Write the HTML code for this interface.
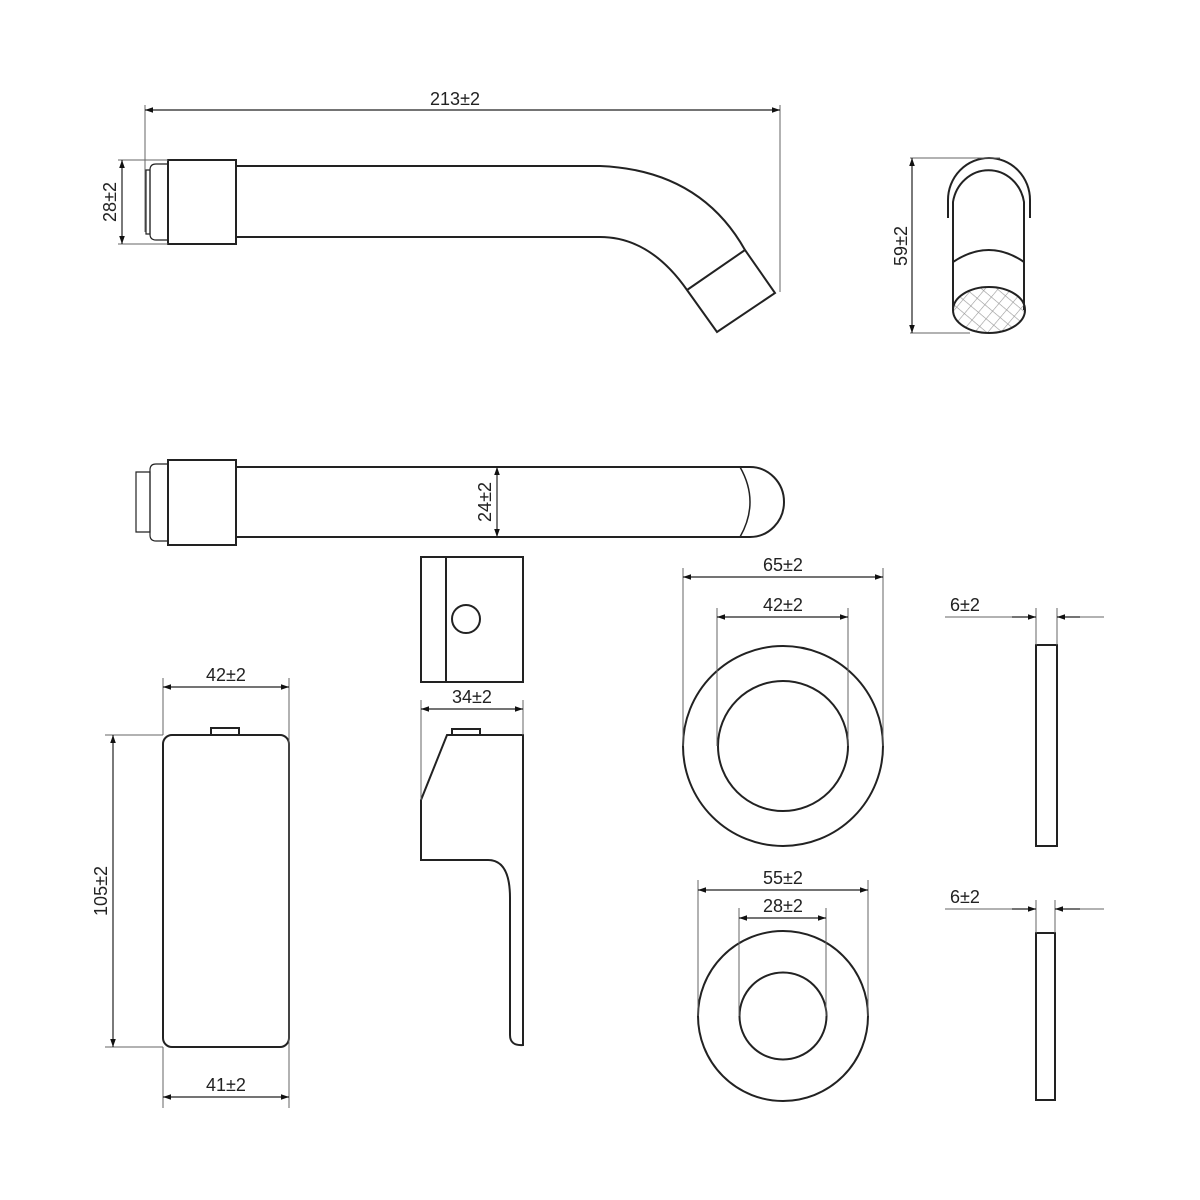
<!DOCTYPE html>
<html><head><style>body{margin:0;background:#fff}svg{display:block}text{font-family:"Liberation Sans",sans-serif;font-size:18px;fill:#222}</style></head>
<body>
<svg width="1200" height="1200" viewBox="0 0 1200 1200" xmlns="http://www.w3.org/2000/svg">
<defs>
<marker id="a" viewBox="0 0 10 10" refX="10" refY="5" markerWidth="24" markerHeight="8" markerUnits="userSpaceOnUse" orient="auto-start-reverse"><path d="M0,1.5 L10,5 L0,8.5Z" fill="#111"/></marker>
<pattern id="h" width="10" height="10" patternUnits="userSpaceOnUse" patternTransform="rotate(40)"><path d="M0,0H10M0,0V10" stroke="#999" stroke-width="1.2"/></pattern>
</defs>
<g fill="none" stroke="#222" stroke-width="2">
<!-- top spout -->
<path d="M168,160H236V244H168Z"/>
<path d="M168,164H156Q150,164 150,170V234Q150,240 156,240H168" stroke-width="1.2"/>
<path d="M146,170H150V234H146Z" stroke-width="1.2"/>
<path d="M236,166H600Q700,170 745,250L775,293L717,332L687,290Q650,237 600,237H236"/>
<path d="M687,290L745,250"/>
<!-- side view spout -->
<path d="M948,218V200A41,42 0 0 1 1030,200V218"/>
<path d="M953,240V202A36,38 0 0 1 1024,202V240"/>
<path d="M953,240V310M1024,240V310"/>
<path d="M953,262Q989,238 1024,262"/>
<ellipse cx="989" cy="310" rx="36" ry="23" fill="url(#h)"/>
<!-- second spout -->
<path d="M168,460H236V545H168Z"/>
<path d="M168,464H156Q150,464 150,470V535Q150,541 156,541H168" stroke-width="1.2"/>
<path d="M136,472H150V532H136Z" stroke-width="1.2"/>
<path d="M236,467H750A34,35 0 0 1 750,537H236"/>
<path d="M740,467Q760,502 740,537" stroke-width="1.5"/>
<!-- handle front -->
<rect x="163" y="735" width="126" height="312" rx="9"/>
<path d="M211,735V728H239V735"/>
<!-- middle top block -->
<rect x="421" y="557" width="102" height="125"/>
<path d="M446,557V682"/>
<circle cx="466" cy="619" r="14"/>
<!-- middle lever side -->
<path d="M452,735V729H480V735"/>
<path d="M447,735H523V1045Q510,1046 510,1035V898Q510,860 488,860H421V800Z"/>
<!-- rings -->
<circle cx="783" cy="746" r="100"/><circle cx="783" cy="746" r="65"/>
<circle cx="783" cy="1016" r="85"/><circle cx="783" cy="1016" r="43.5"/>
<rect x="1036" y="645" width="21" height="201"/>
<rect x="1036" y="933" width="19" height="167"/>
</g>
<!-- dimension lines -->
<g stroke="#666" stroke-width="1" fill="none">
<path d="M145,105V232M780,105V292"/>
<path d="M118,160H168M118,244H168"/>
<path d="M163,678V735M289,678V1047M163,1047V1108M289,1047V1108"/>
<path d="M105,735H163M105,1047H163"/>
<path d="M421,700V800M523,700V735"/>
<path d="M683,568V746M883,568V746M717,608V746M848,608V746"/>
<path d="M698,880V1016M868,880V1016M739,908V1016M826,908V1016"/>
<path d="M1036,608V645M1057,608V645M1036,900V933M1055,900V933"/>
<path d="M945,617H1012M1080,617H1104M945,909H1012M1080,909H1104"/>
<path d="M910,158H1000M910,333H970"/>
</g>
<g stroke="#222" stroke-width="1.2" marker-start="url(#a)" marker-end="url(#a)">
<path d="M145,110H780"/>
<path d="M122,160V244"/>
<path d="M912,158V333"/>
<path d="M497,467V537"/>
<path d="M163,687H289"/>
<path d="M113,735V1047"/>
<path d="M163,1097H289"/>
<path d="M421,709H523"/>
<path d="M683,577H883"/>
<path d="M717,617H848"/>
<path d="M698,890H868"/>
<path d="M739,918H826"/>
</g>
<g stroke="#222" stroke-width="1.2" marker-end="url(#a)">
<path d="M1012,617H1036"/><path d="M1080,617H1057"/>
<path d="M1012,909H1036"/><path d="M1080,909H1055"/>
</g>
<text x="455" y="105" text-anchor="middle">213±2</text>
<text transform="translate(116,202) rotate(-90)" text-anchor="middle">28±2</text>
<text transform="translate(907,246) rotate(-90)" text-anchor="middle">59±2</text>
<text transform="translate(491,502) rotate(-90)" text-anchor="middle">24±2</text>
<text x="226" y="681" text-anchor="middle">42±2</text>
<text transform="translate(107,891) rotate(-90)" text-anchor="middle">105±2</text>
<text x="226" y="1091" text-anchor="middle">41±2</text>
<text x="472" y="703" text-anchor="middle">34±2</text>
<text x="783" y="571" text-anchor="middle">65±2</text>
<text x="783" y="611" text-anchor="middle">42±2</text>
<text x="783" y="884" text-anchor="middle">55±2</text>
<text x="783" y="912" text-anchor="middle">28±2</text>
<text x="965" y="611" text-anchor="middle">6±2</text>
<text x="965" y="903" text-anchor="middle">6±2</text>
</svg>
</body></html>
